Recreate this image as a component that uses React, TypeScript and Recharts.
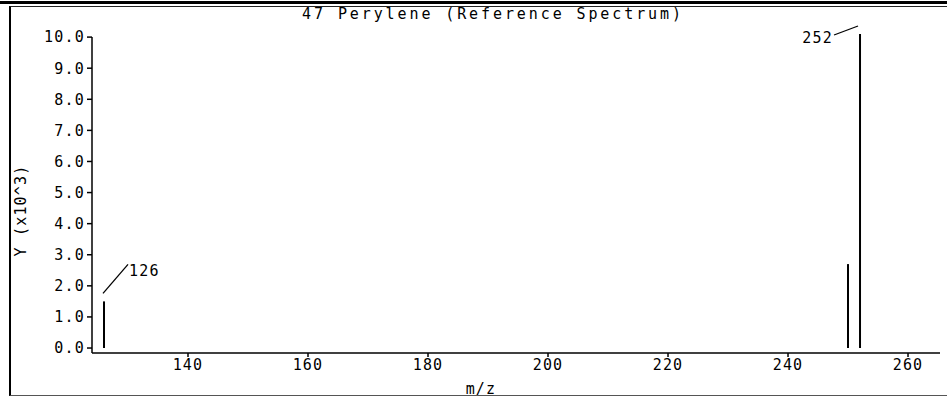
import React from 'react';
import { ComposedChart, Bar, XAxis, YAxis, LabelList, ReferenceLine } from 'recharts';

const mzValues = [126, 250, 252];
const intensities = [1.5, 2.7, 10.1];
const peakTags = ['126', '', '252'];
const tagSides = ['right', '', 'left'];
const xTicks = [140, 160, 180, 200, 220, 240, 260];
const yTicks = [0, 1, 2, 3, 4, 5, 6, 7, 8, 9, 10];

const data = mzValues.map((mz, i) => ({
  mz,
  y: intensities[i],
  tag: peakTags[i],
  side: tagSides[i],
}));

const FONT = '"DejaVu Sans Mono", "Liberation Mono", monospace';
const textStyle = { fill: '#000', fontFamily: FONT, fontSize: 15, letterSpacing: 1.2 };

const renderTag = (props: any) => {
  const { x, y, width, value, index } = props;
  if (!value) return null;
  const cx = x + width / 2;
  const side = data[index].side;
  if (side === 'right') {
    return (
      <g>
        <line x1={cx - 1} y1={y - 8} x2={cx + 24} y2={y - 37} stroke="#000" strokeWidth={1.3} />
        <text x={cx + 25} y={y - 25} {...textStyle}>
          {value}
        </text>
      </g>
    );
  }
  return (
    <g>
      <line x1={cx - 26} y1={y + 1} x2={cx - 2} y2={y - 8} stroke="#000" strokeWidth={1.3} />
      <text x={cx - 27} y={y + 9} textAnchor="end" {...textStyle}>
        {value}
      </text>
    </g>
  );
};

const YLabel = (props: any) => {
  const { viewBox } = props;
  const x = viewBox.x + 26;
  const y = viewBox.y + viewBox.height / 2 + 24;
  return (
    <text x={x} y={y} transform={`rotate(-90, ${x}, ${y})`} textAnchor="middle" {...textStyle}>
      Y (x10^3)
    </text>
  );
};

const XLabel = (props: any) => {
  const { viewBox } = props;
  const x = viewBox.x + viewBox.width / 2 - 35;
  const y = viewBox.y + viewBox.height + 11;
  return (
    <text x={x} y={y} textAnchor="middle" {...textStyle}>
      m/z
    </text>
  );
};

export default function App() {
  return (
    <div style={{ position: 'absolute', left: 0, top: 0, width: 947, height: 397, background: '#fff' }}>
      <div style={{ position: 'absolute', left: 0, top: 1, width: 947, height: 3, background: '#000' }} />
      <div
        style={{
          position: 'absolute',
          left: 9,
          top: 6,
          width: 938,
          height: 388,
          borderLeft: '2px solid #000',
          borderTop: '1px solid #222',
          borderBottom: '1px solid #555',
        }}
      />
      <div
        style={{
          position: 'absolute',
          left: 0,
          top: 5,
          width: 986,
          textAlign: 'center',
          fontFamily: FONT,
          fontSize: 15,
          letterSpacing: 2.9,
          color: '#000',
        }}
      >
        47 Perylene (Reference Spectrum)
      </div>
      <ComposedChart
        width={947}
        height={397}
        data={data}
        margin={{ top: 20, right: 7, left: 0, bottom: 14 }}
        style={{ position: 'absolute', left: 0, top: 0 }}
      >
        <XAxis
          dataKey="mz"
          type="number"
          domain={[124, 265.33]}
          ticks={xTicks}
          allowDataOverflow
          height={30}
          tickSize={4}
          stroke="#000"
          strokeWidth={1.5}
          tick={textStyle}
          label={<XLabel />}
        />
        <YAxis
          type="number"
          domain={[-0.16, 10.55]}
          ticks={yTicks}
          allowDataOverflow
          width={92}
          tickSize={5}
          axisLine={false}
          stroke="#000"
          strokeWidth={1.5}
          tickFormatter={(v: number) => v.toFixed(1)}
          tick={textStyle}
          label={<YLabel />}
        />
        <ReferenceLine
          segment={[{ x: 124, y: -0.16 }, { x: 124, y: 10 }]}
          stroke="#000"
          strokeWidth={1.5}
        />
        <Bar dataKey="y" fill="#000" barSize={2} isAnimationActive={false}>
          <LabelList dataKey="tag" content={renderTag} />
        </Bar>
      </ComposedChart>
    </div>
  );
}
